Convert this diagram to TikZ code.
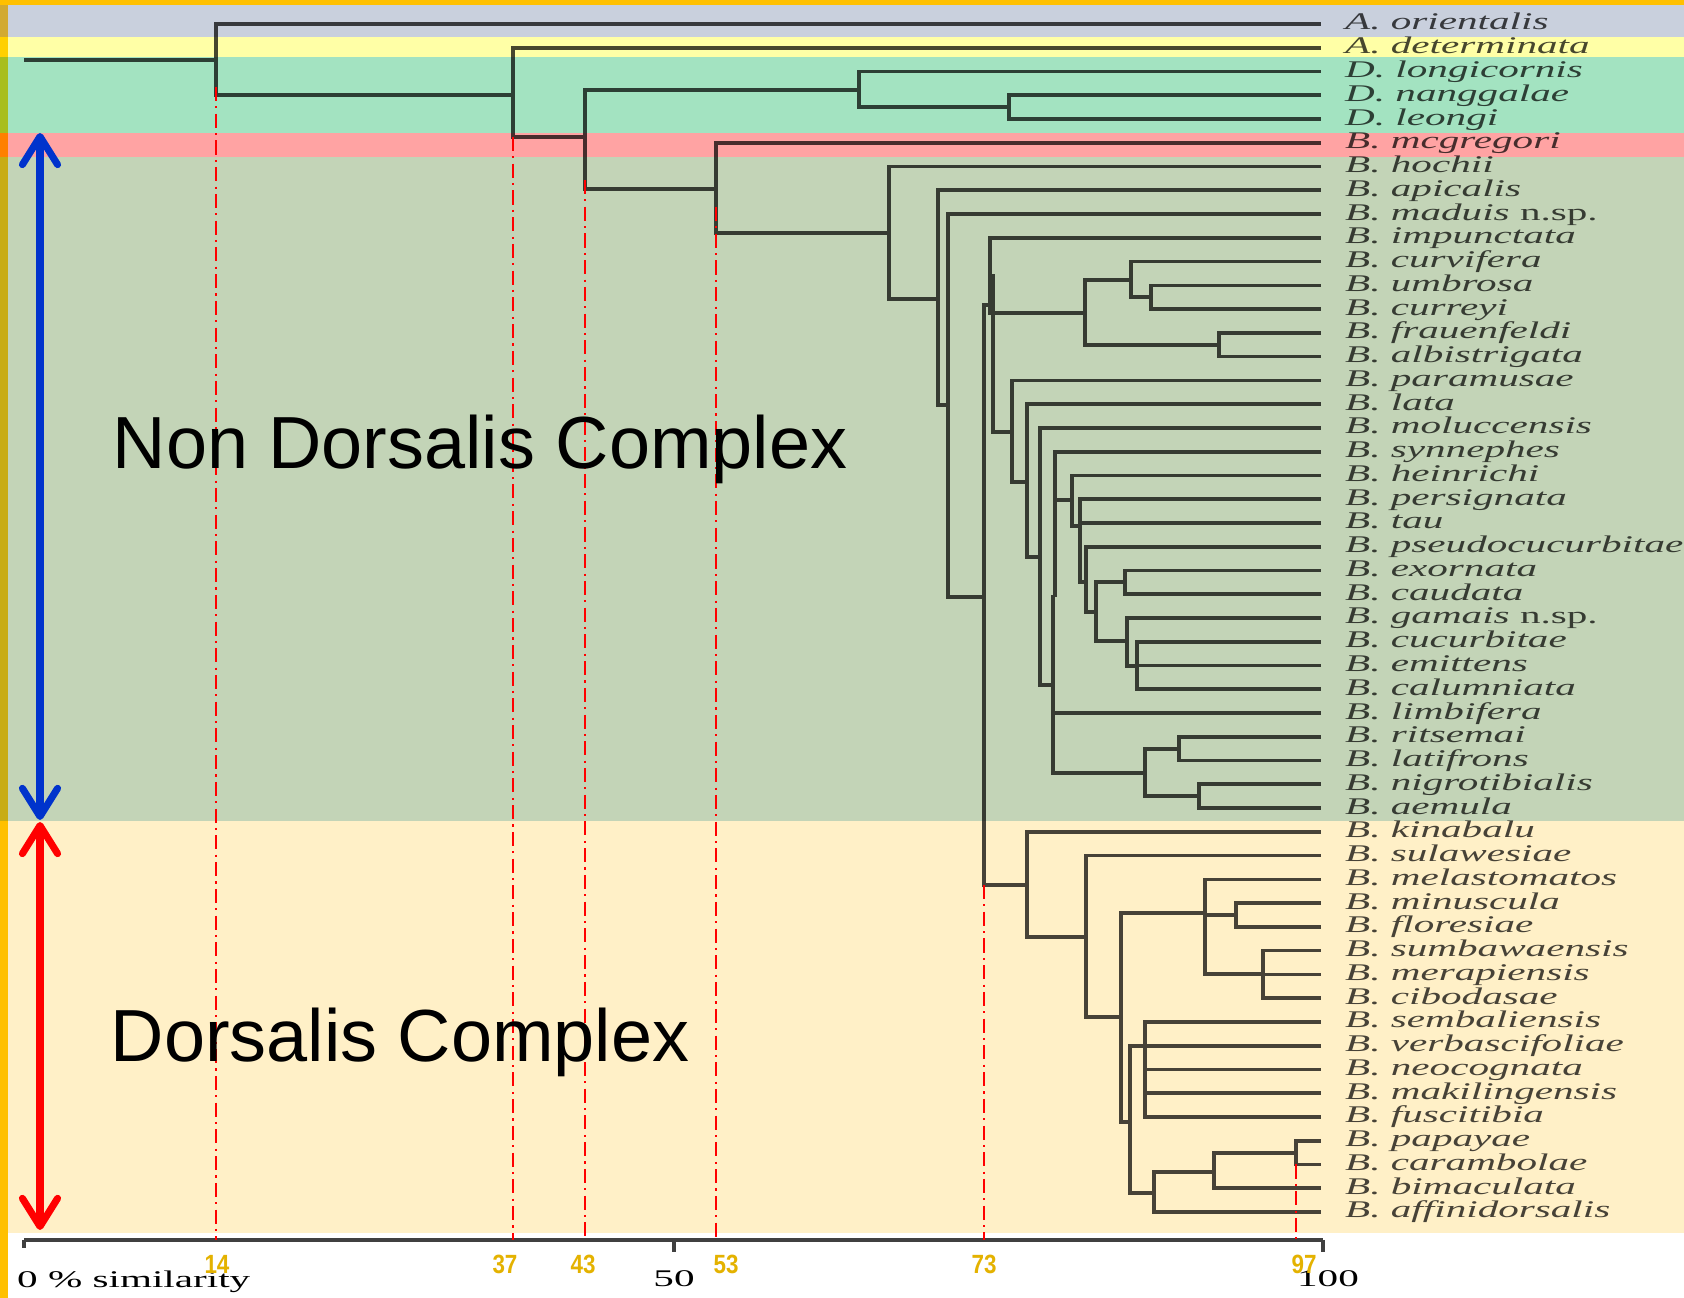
\documentclass[tikz,border=0pt]{standalone}
\usepackage{fontspec}
\setmainfont{Liberation Serif}
\newfontfamily\arial{Liberation Sans}
\usepackage{tikz}
\usetikzlibrary{arrows.meta,positioning,calc}
\definecolor{bandeGris}{RGB}{201,208,221}
\definecolor{bandeJaune}{RGB}{255,255,166}
\definecolor{bandeVerte}{RGB}{163,227,193}
\definecolor{bandeRose}{RGB}{255,163,163}
\definecolor{bandeSauge}{RGB}{195,212,183}
\definecolor{bandeCreme}{RGB}{255,240,199}
\definecolor{orangeBord}{RGB}{255,192,0}
\definecolor{bordGris}{RGB}{210,170,50}
\definecolor{bordJaune}{RGB}{255,208,0}
\definecolor{bordVert}{RGB}{168,190,30}
\definecolor{bordRose}{RGB}{255,128,0}
\definecolor{bordSauge}{RGB}{200,172,20}
\definecolor{chiffre}{RGB}{228,178,0}
\definecolor{bleuFleche}{RGB}{0,51,204}

\begin{document}
\begin{tikzpicture}[x=0.01cm,y=-0.01cm]
\tikzstyle{branche}=[line width=1.05pt]
\tikzstyle{espece}=[anchor=west,inner xsep=3.8pt,inner ysep=0pt,text height=3.4pt,text depth=0pt,xscale=1.72,font=\fontsize{6.8}{8}\selectfont]
\tikzstyle{graduation}=[anchor=base,inner sep=0pt,xscale=1.72,font=\fontsize{6.8}{8}\selectfont]
\tikzstyle{seuil}=[inner sep=0pt,xscale=0.85,text=chiffre,font=\arial\bfseries\fontsize{7.5}{9}\selectfont]
\tikzstyle{pointille}=[red,line width=0.6pt,dash pattern=on 4pt off 1.5pt on 0.6pt off 1.5pt]
\tikzstyle{complexe}=[anchor=base west,inner sep=0pt,font=\arial\fontsize{21}{25}\selectfont]
\tikzstyle{flecheComplexe}=[{Straight Barb[length=8pt,width=10pt,round]}-{Straight Barb[length=8pt,width=10pt,round]},line width=2pt]
\tikzstyle{axe}=[black!75,line width=1.2pt]
\def\Pas{23.76}
\def\Fin{1321}
\def\Bandes#1{
\fill[bandeGris,#1] (8,5) rectangle (1684,37);
\fill[bandeJaune,#1] (8,37) rectangle (1684,57);
\fill[bandeVerte,#1] (8,57) rectangle (1684,133);
\fill[bandeRose,#1] (8,133) rectangle (1684,157);
\fill[bandeSauge,#1] (8,157) rectangle (1684,821);
\fill[bandeCreme,#1] (8,821) rectangle (1684,1233);
}
\useasboundingbox (0,0) rectangle (1684,1298);
\fill[white] (0,0) rectangle (1684,1298);
\Bandes{}
\node[espece] (orientalis) at (\Fin,{24+0*\Pas}) {\textit{A. orientalis}};
\node[espece] (determinata) at (\Fin,{24+1*\Pas}) {\textit{A. determinata}};
\node[espece] (longicornis) at (\Fin,{24+2*\Pas}) {\textit{D. longicornis}};
\node[espece] (nanggalae) at (\Fin,{24+3*\Pas}) {\textit{D. nanggalae}};
\node[espece] (leongi) at (\Fin,{24+4*\Pas}) {\textit{D. leongi}};
\node[espece] (mcgregori) at (\Fin,{24+5*\Pas}) {\textit{B. mcgregori}};
\node[espece] (hochii) at (\Fin,{24+6*\Pas}) {\textit{B. hochii}};
\node[espece] (apicalis) at (\Fin,{24+7*\Pas}) {\textit{B. apicalis}};
\node[espece] (maduis) at (\Fin,{24+8*\Pas}) {\textit{B. maduis} n.sp.};
\node[espece] (impunctata) at (\Fin,{24+9*\Pas}) {\textit{B. impunctata}};
\node[espece] (curvifera) at (\Fin,{24+10*\Pas}) {\textit{B. curvifera}};
\node[espece] (umbrosa) at (\Fin,{24+11*\Pas}) {\textit{B. umbrosa}};
\node[espece] (curreyi) at (\Fin,{24+12*\Pas}) {\textit{B. curreyi}};
\node[espece] (frauenfeldi) at (\Fin,{24+13*\Pas}) {\textit{B. frauenfeldi}};
\node[espece] (albistrigata) at (\Fin,{24+14*\Pas}) {\textit{B. albistrigata}};
\node[espece] (paramusae) at (\Fin,{24+15*\Pas}) {\textit{B. paramusae}};
\node[espece] (lata) at (\Fin,{24+16*\Pas}) {\textit{B. lata}};
\node[espece] (moluccensis) at (\Fin,{24+17*\Pas}) {\textit{B. moluccensis}};
\node[espece] (synnephes) at (\Fin,{24+18*\Pas}) {\textit{B. synnephes}};
\node[espece] (heinrichi) at (\Fin,{24+19*\Pas}) {\textit{B. heinrichi}};
\node[espece] (persignata) at (\Fin,{24+20*\Pas}) {\textit{B. persignata}};
\node[espece] (tau) at (\Fin,{24+21*\Pas}) {\textit{B. tau}};
\node[espece] (pseudocucurbitae) at (\Fin,{24+22*\Pas}) {\textit{B. pseudocucurbitae}};
\node[espece] (exornata) at (\Fin,{24+23*\Pas}) {\textit{B. exornata}};
\node[espece] (caudata) at (\Fin,{24+24*\Pas}) {\textit{B. caudata}};
\node[espece] (gamais) at (\Fin,{24+25*\Pas}) {\textit{B. gamais} n.sp.};
\node[espece] (cucurbitae) at (\Fin,{24+26*\Pas}) {\textit{B. cucurbitae}};
\node[espece] (emittens) at (\Fin,{24+27*\Pas}) {\textit{B. emittens}};
\node[espece] (calumniata) at (\Fin,{24+28*\Pas}) {\textit{B. calumniata}};
\node[espece] (limbifera) at (\Fin,{24+29*\Pas}) {\textit{B. limbifera}};
\node[espece] (ritsemai) at (\Fin,{24+30*\Pas}) {\textit{B. ritsemai}};
\node[espece] (latifrons) at (\Fin,{24+31*\Pas}) {\textit{B. latifrons}};
\node[espece] (nigrotibialis) at (\Fin,{24+32*\Pas}) {\textit{B. nigrotibialis}};
\node[espece] (aemula) at (\Fin,{24+33*\Pas}) {\textit{B. aemula}};
\node[espece] (kinabalu) at (\Fin,{24+34*\Pas}) {\textit{B. kinabalu}};
\node[espece] (sulawesiae) at (\Fin,{24+35*\Pas}) {\textit{B. sulawesiae}};
\node[espece] (melastomatos) at (\Fin,{24+36*\Pas}) {\textit{B. melastomatos}};
\node[espece] (minuscula) at (\Fin,{24+37*\Pas}) {\textit{B. minuscula}};
\node[espece] (floresiae) at (\Fin,{24+38*\Pas}) {\textit{B. floresiae}};
\node[espece] (sumbawaensis) at (\Fin,{24+39*\Pas}) {\textit{B. sumbawaensis}};
\node[espece] (merapiensis) at (\Fin,{24+40*\Pas}) {\textit{B. merapiensis}};
\node[espece] (cibodasae) at (\Fin,{24+41*\Pas}) {\textit{B. cibodasae}};
\node[espece] (sembaliensis) at (\Fin,{24+42*\Pas}) {\textit{B. sembaliensis}};
\node[espece] (verbascifoliae) at (\Fin,{24+43*\Pas}) {\textit{B. verbascifoliae}};
\node[espece] (neocognata) at (\Fin,{24+44*\Pas}) {\textit{B. neocognata}};
\node[espece] (makilingensis) at (\Fin,{24+45*\Pas}) {\textit{B. makilingensis}};
\node[espece] (fuscitibia) at (\Fin,{24+46*\Pas}) {\textit{B. fuscitibia}};
\node[espece] (papayae) at (\Fin,{24+47*\Pas}) {\textit{B. papayae}};
\node[espece] (carambolae) at (\Fin,{24+48*\Pas}) {\textit{B. carambolae}};
\node[espece] (bimaculata) at (\Fin,{24+49*\Pas}) {\textit{B. bimaculata}};
\node[espece] (affinidorsalis) at (\Fin,{24+50*\Pas}) {\textit{B. affinidorsalis}};
\coordinate (racine) at (24,60);
\coordinate (R) at (216,60);
\coordinate (Rb) at (513,95);
\coordinate (Rbb) at (585,137);
\coordinate (D) at (859,90);
\coordinate (D2) at (1009,107);
\coordinate (E) at (716,189);
\coordinate (F) at (889,233);
\coordinate (G) at (938,299);
\coordinate (H) at (948,405);
\coordinate (N73) at (984,597);
\coordinate (T) at (993,305);
\coordinate (A) at (990,276);
\coordinate (Q) at (1085,313);
\coordinate (Q1) at (1131,280);
\coordinate (Q1b) at (1151,297);
\coordinate (Q2) at (1219,345);
\coordinate (P) at (1012,432);
\coordinate (P2) at (1027,482);
\coordinate (P3) at (1040,557);
\coordinate (P4) at (1053,685);
\coordinate (S) at (1055,597);
\coordinate (S2) at (1072,500);
\coordinate (S3) at (1080,526);
\coordinate (S4) at (1086,582);
\coordinate (S5) at (1096,612);
\coordinate (S6) at (1125,582);
\coordinate (S7) at (1127,641);
\coordinate (S8) at (1137,666);
\coordinate (W) at (1145,773);
\coordinate (W1) at (1179,749);
\coordinate (W2) at (1199,796);
\coordinate (K) at (1027,885);
\coordinate (L) at (1086,937);
\coordinate (M) at (1121,1017);
\coordinate (M1) at (1205,913);
\coordinate (M1a) at (1236,915);
\coordinate (M1b) at (1263,974);
\coordinate (M2) at (1130,1122);
\coordinate (N) at (1145,1046);
\coordinate (O) at (1154,1193);
\coordinate (O1) at (1214,1172);
\coordinate (O2) at (1296,1153);
\draw[branche] (racine)--(R);
\draw[branche] (R)|-(orientalis.west);
\draw[branche] (R)|-(Rb);
\draw[branche] (Rb)|-(determinata.west);
\draw[branche] (Rb)|-(Rbb);
\draw[branche] (Rbb)|-(D);
\draw[branche] (Rbb)|-(E);
\draw[branche] (D)|-(longicornis.west);
\draw[branche] (D)|-(D2);
\draw[branche] (D2)|-(nanggalae.west);
\draw[branche] (D2)|-(leongi.west);
\draw[branche] (E)|-(mcgregori.west);
\draw[branche] (E)|-(F);
\draw[branche] (F)|-(hochii.west);
\draw[branche] (F)|-(G);
\draw[branche] (G)|-(apicalis.west);
\draw[branche] (G)|-(H);
\draw[branche] (H)|-(maduis.west);
\draw[branche] (H)|-(N73);
\draw[branche] (N73)|-(T);
\draw[branche] (N73)|-(K);
\draw[branche] (T)|-(A);
\draw[branche] (T)|-(P);
\draw[branche] (A)|-(impunctata.west);
\draw[branche] (A)|-(Q);
\draw[branche] (Q)|-(Q1);
\draw[branche] (Q)|-(Q2);
\draw[branche] (Q1)|-(curvifera.west);
\draw[branche] (Q1)|-(Q1b);
\draw[branche] (Q1b)|-(umbrosa.west);
\draw[branche] (Q1b)|-(curreyi.west);
\draw[branche] (Q2)|-(frauenfeldi.west);
\draw[branche] (Q2)|-(albistrigata.west);
\draw[branche] (P)|-(paramusae.west);
\draw[branche] (P)|-(P2);
\draw[branche] (P2)|-(lata.west);
\draw[branche] (P2)|-(P3);
\draw[branche] (P3)|-(moluccensis.west);
\draw[branche] (P3)|-(P4);
\draw[branche] (P4)|-(S);
\draw[branche] (P4)|-(limbifera.west);
\draw[branche] (P4)|-(W);
\draw[branche] (S)|-(synnephes.west);
\draw[branche] (S)|-(S2);
\draw[branche] (S2)|-(heinrichi.west);
\draw[branche] (S2)|-(S3);
\draw[branche] (S3)|-(persignata.west);
\draw[branche] (S3)|-(tau.west);
\draw[branche] (S3)|-(S4);
\draw[branche] (S4)|-(pseudocucurbitae.west);
\draw[branche] (S4)|-(S5);
\draw[branche] (S5)|-(S6);
\draw[branche] (S5)|-(S7);
\draw[branche] (S6)|-(exornata.west);
\draw[branche] (S6)|-(caudata.west);
\draw[branche] (S7)|-(gamais.west);
\draw[branche] (S7)|-(S8);
\draw[branche] (S8)|-(cucurbitae.west);
\draw[branche] (S8)|-(emittens.west);
\draw[branche] (S8)|-(calumniata.west);
\draw[branche] (W)|-(W1);
\draw[branche] (W)|-(W2);
\draw[branche] (W1)|-(ritsemai.west);
\draw[branche] (W1)|-(latifrons.west);
\draw[branche] (W2)|-(nigrotibialis.west);
\draw[branche] (W2)|-(aemula.west);
\draw[branche] (K)|-(kinabalu.west);
\draw[branche] (K)|-(L);
\draw[branche] (L)|-(sulawesiae.west);
\draw[branche] (L)|-(M);
\draw[branche] (M)|-(M1);
\draw[branche] (M)|-(M2);
\draw[branche] (M1)|-(melastomatos.west);
\draw[branche] (M1)|-(M1a);
\draw[branche] (M1)|-(M1b);
\draw[branche] (M1a)|-(minuscula.west);
\draw[branche] (M1a)|-(floresiae.west);
\draw[branche] (M1b)|-(sumbawaensis.west);
\draw[branche] (M1b)|-(merapiensis.west);
\draw[branche] (M1b)|-(cibodasae.west);
\draw[branche] (M2)|-(N);
\draw[branche] (M2)|-(O);
\draw[branche] (N)|-(sembaliensis.west);
\draw[branche] (N)|-(verbascifoliae.west);
\draw[branche] (N)|-(neocognata.west);
\draw[branche] (N)|-(makilingensis.west);
\draw[branche] (N)|-(fuscitibia.west);
\draw[branche] (O)|-(O1);
\draw[branche] (O)|-(affinidorsalis.west);
\draw[branche] (O1)|-(O2);
\draw[branche] (O1)|-(bimaculata.west);
\draw[branche] (O2)|-(papayae.west);
\draw[branche] (O2)|-(carambolae.west);
\Bandes{fill opacity=0.28}
\fill[orangeBord] (0,0) rectangle (1684,5);
\fill[bordGris] (0,5) rectangle (8,37);
\fill[bordJaune] (0,37) rectangle (8,57);
\fill[bordVert] (0,57) rectangle (8,133);
\fill[bordRose] (0,133) rectangle (8,157);
\fill[bordSauge] (0,157) rectangle (8,821);
\fill[orangeBord] (0,821) rectangle (8,1298);
\coordinate (axe0) at (24,1240);
\coordinate (axe50) at (674,1240);
\coordinate (axe100) at (1323,1240);
\draw[axe] (axe0)--(axe100);
\draw[axe] (axe0)--++(0,8);
\draw[axe] (axe50)--++(0,12);
\draw[axe] (axe100)--++(0,12);
\node[graduation,anchor=base west] (similarite) at (16,1288) {0 \% similarity};
\node[graduation] (cinquante) at (674,1287) {50};
\node[graduation] (cent) at (1328,1287) {100};
\draw[pointille] (R |- Rb) ++(0,-8)--(R |- axe0);
\draw[pointille] (Rb |- Rbb)--(Rb |- axe0);
\draw[pointille] (Rbb |- E) ++(0,-9)--(Rbb |- axe0);
\draw[pointille] (E |- F) ++(0,-26)--(E |- axe0);
\draw[pointille] (N73 |- K)--(N73 |- axe0);
\draw[pointille] (O2 |- carambolae)--(O2 |- axe0);
\node[seuil] (s14) at (217,1264) {14};
\node[seuil] (s37) at (505,1264) {37};
\node[seuil] (s43) at (583,1264) {43};
\node[seuil] (s53) at (726,1264) {53};
\node[seuil] (s73) at (984,1264) {73};
\node[seuil] (s97) at (1304,1264) {97};
\coordinate (hautBleu) at (40,133);
\coordinate (basBleu) at (40,820);
\coordinate (hautRouge) at (40,822);
\coordinate (basRouge) at (40,1230);
\draw[flecheComplexe,bleuFleche] (hautBleu)--(basBleu);
\draw[flecheComplexe,red] (hautRouge)--(basRouge);
\node[complexe] (nonDorsalis) at (112,469) {Non Dorsalis Complex};
\node[complexe] (dorsalis) at (110,1062) {Dorsalis Complex};
\end{tikzpicture}
\end{document}
